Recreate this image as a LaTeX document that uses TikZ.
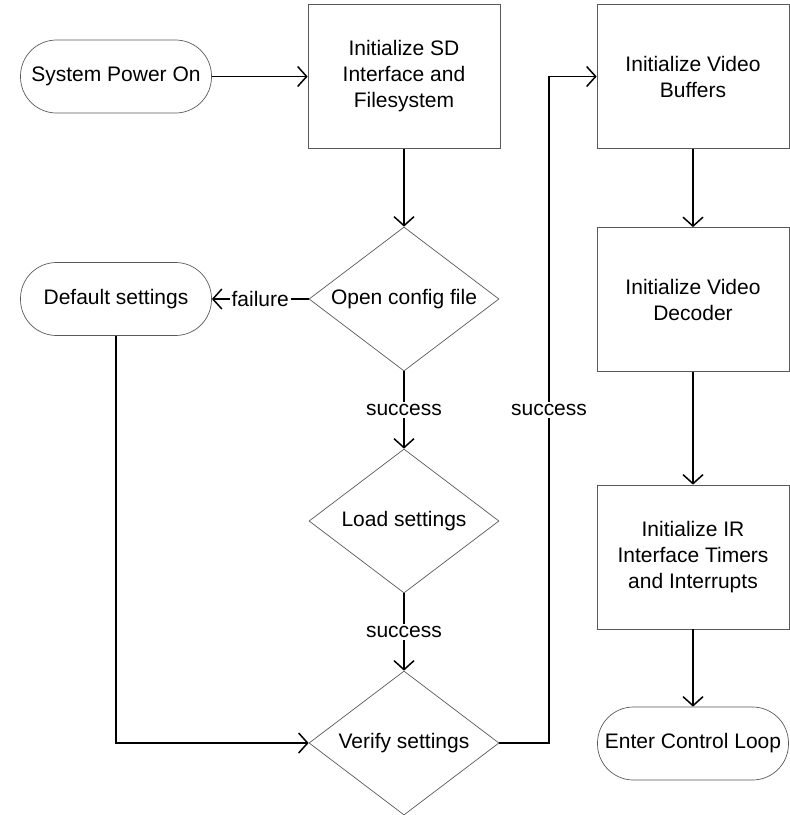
\documentclass[tikz,border=0pt]{standalone}
\usepackage{fontspec}
\setmainfont{Liberation Sans}
\usetikzlibrary{shapes.geometric,arrows.meta}
\begin{document}
\begin{tikzpicture}[x=1pt, y=-1pt,
        every node/.style={font=\fontsize{21}{26}\selectfont},
        terminal/.style={draw=black!65, line width=0.7pt, rectangle, rounded corners=36pt, minimum width=191pt, minimum height=73pt, inner sep=0pt},
        process/.style={draw=black!65, line width=0.7pt, rectangle, minimum width=192pt, minimum height=144pt, align=center, inner sep=0pt},
        decision/.style={draw=black!65, line width=0.7pt, diamond, shape aspect=1.32, minimum width=190pt, minimum height=144pt, inner sep=0pt},
        flow/.style={line width=1.5pt, -{Straight Barb[length=9pt,width=20pt,line width=1.5pt]}},
        tag/.style={fill=white, inner sep=2pt}]
        \useasboundingbox (0,0) rectangle (790,815);
        \node (start) [terminal] at (116,76.5) {System Power On};
        \node (sdinit) [process] at (404,76.5) {Initialize SD\\Interface and\\Filesystem};
        \node (openfile) [decision] at (404,299) {Open config file};
        \node (defaults) [terminal] at (116,299) {Default settings};
        \node (loadset) [decision] at (404,521) {Load settings};
        \node (verify) [decision] at (404,743) {Verify settings};
        \node (buffers) [process] at (693,76.5) {Initialize Video\\Buffers};
        \node (decoder) [process] at (693,299.5) {Initialize Video\\Decoder};
        \node (irinit) [process] at (693,557) {Initialize IR\\Interface Timers\\and Interrupts};
        \node (ctrlloop) [terminal] at (693,743.5) {Enter Control Loop};
        \coordinate (turn) at (549,76.5);
        \draw [flow] (start) -- (sdinit);
        \draw [flow] (sdinit) -- (openfile);
        \draw [flow] (openfile) -- node [tag] {failure} (defaults);
        \draw [flow] (openfile) -- node [tag] {success} (loadset);
        \draw [flow] (loadset) -- node [tag] {success} (verify);
        \draw [flow] (defaults.south) |- (verify.west);
        \draw [flow] (verify.east) -- (verify.east -| turn) -- node [tag] {success} (turn) -- (buffers.west);
        \draw [flow] (buffers) -- (decoder);
        \draw [flow] (decoder) -- (irinit);
        \draw [flow] (irinit) -- (ctrlloop);
\end{tikzpicture}
\end{document}
